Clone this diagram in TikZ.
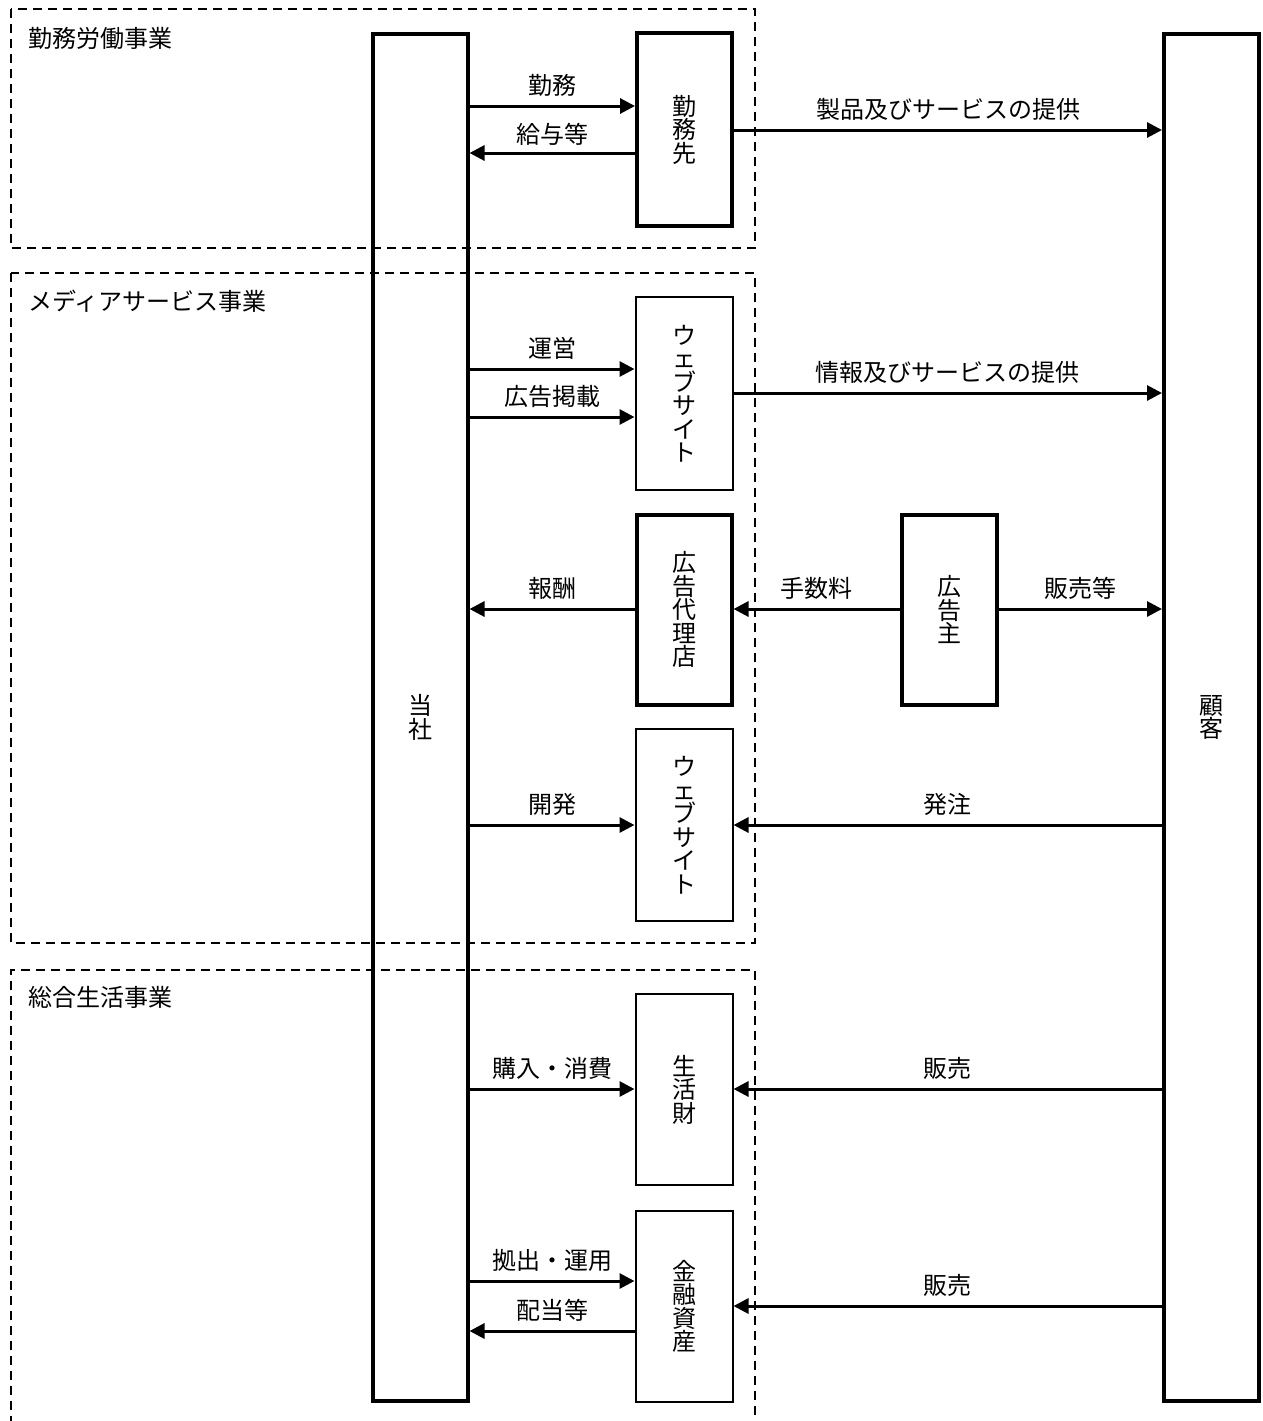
\documentclass[tikz,border=0pt]{standalone}
\usepackage{fontspec}
\setmainfont{Noto Sans CJK JP}
\usetikzlibrary{arrows.meta}
\tikzset{
  thickbox/.style={draw, line width=4pt, inner sep=0pt, align=center, font=\fontsize{24pt}{23.5pt}\selectfont},
  thinbox/.style={draw, line width=2pt, inner sep=0pt, align=center, font=\fontsize{24pt}{23.5pt}\selectfont},
  arr/.style={line width=3pt, -{Triangle[length=15pt,width=15pt]}},
  lbl/.style={font=\fontsize{24pt}{24pt}\selectfont, inner sep=0pt, yshift=21pt},
  sect/.style={draw, line width=1.6pt, dash pattern=on 9pt off 6pt},
  secttitle/.style={font=\fontsize{24pt}{24pt}\selectfont, inner sep=0pt, anchor=west},
}
\begin{document}
\begin{tikzpicture}[x=1pt,y=-1pt]
\useasboundingbox (0,0) rectangle (1262,1421);
% sections
\draw[sect] (11,9) rectangle (755,248);
\draw[sect] (11,273) rectangle (755,943);
\draw[sect] (11,1440) -- (11,970) -- (755,970) -- (755,1440);
\node[secttitle] (t1) at (28,38) {勤務労働事業};
\node[secttitle] (t2) at (28,301) {メディアサービス事業};
\node[secttitle] (t3) at (28,997) {総合生活事業};
% main boxes
\node[thickbox, minimum width=95, minimum height=1367] (tousha) at (420,717.5) {当\\社};
\node[thickbox, minimum width=95, minimum height=1367] (kokyaku) at (1211.5,717.5) {顧\\客};
\node[thickbox, minimum width=95, minimum height=192] (kinmusaki) at (684.5,129.5) {勤\\務\\先};
\node[thinbox, minimum width=97, minimum height=193] (web1) at (684,393.5) {ウ\\ェ\\ブ\\サ\\イ\\ト};
\node[thickbox, minimum width=95, minimum height=190] (dairiten) at (684,609.5) {広\\告\\代\\理\\店};
\node[thickbox, minimum width=95, minimum height=190] (nushi) at (949,609.5) {広\\告\\主};
\node[thinbox, minimum width=97, minimum height=192] (web2) at (684,825) {ウ\\ェ\\ブ\\サ\\イ\\ト};
\node[thinbox, minimum width=97, minimum height=191] (seikatsu) at (684,1089.5) {生\\活\\財};
\node[thinbox, minimum width=97, minimum height=191] (kinyu) at (684,1306.5) {金\\融\\資\\産};
% connectors
\draw[arr] (tousha.east |- 0,106) -- node[lbl, midway] {勤務} (kinmusaki.west |- 0,106);
\draw[arr] (kinmusaki.west |- 0,153) -- node[lbl, midway, yshift=-2pt] {給与等} (tousha.east |- 0,153);
\draw[arr] (kinmusaki.east |- 0,130) -- node[lbl, midway] {製品及びサービスの提供} (kokyaku.west |- 0,130);
\draw[arr] (tousha.east |- 0,369) -- node[lbl, midway] {運営} (web1.west |- 0,369);
\draw[arr] (tousha.east |- 0,417) -- node[lbl, midway] {広告掲載} (web1.west |- 0,417);
\draw[arr] (web1.east |- 0,393) -- node[lbl, midway] {情報及びサービスの提供} (kokyaku.west |- 0,393);
\draw[arr] (dairiten.west |- 0,609) -- node[lbl, midway] {報酬} (tousha.east |- 0,609);
\draw[arr] (nushi.west |- 0,609) -- node[lbl, midway] {手数料} (dairiten.east |- 0,609);
\draw[arr] (nushi.east |- 0,609) -- node[lbl, midway] {販売等} (kokyaku.west |- 0,609);
\draw[arr] (tousha.east |- 0,825) -- node[lbl, midway] {開発} (web2.west |- 0,825);
\draw[arr] (kokyaku.west |- 0,825) -- node[lbl, midway] {発注} (web2.east |- 0,825);
\draw[arr] (tousha.east |- 0,1089) -- node[lbl, midway] {購入・消費} (seikatsu.west |- 0,1089);
\draw[arr] (kokyaku.west |- 0,1089) -- node[lbl, midway] {販売} (seikatsu.east |- 0,1089);
\draw[arr] (tousha.east |- 0,1281) -- node[lbl, midway] {拠出・運用} (kinyu.west |- 0,1281);
\draw[arr] (kinyu.west |- 0,1331) -- node[lbl, midway] {配当等} (tousha.east |- 0,1331);
\draw[arr] (kokyaku.west |- 0,1306) -- node[lbl, midway] {販売} (kinyu.east |- 0,1306);
\end{tikzpicture}
\end{document}
